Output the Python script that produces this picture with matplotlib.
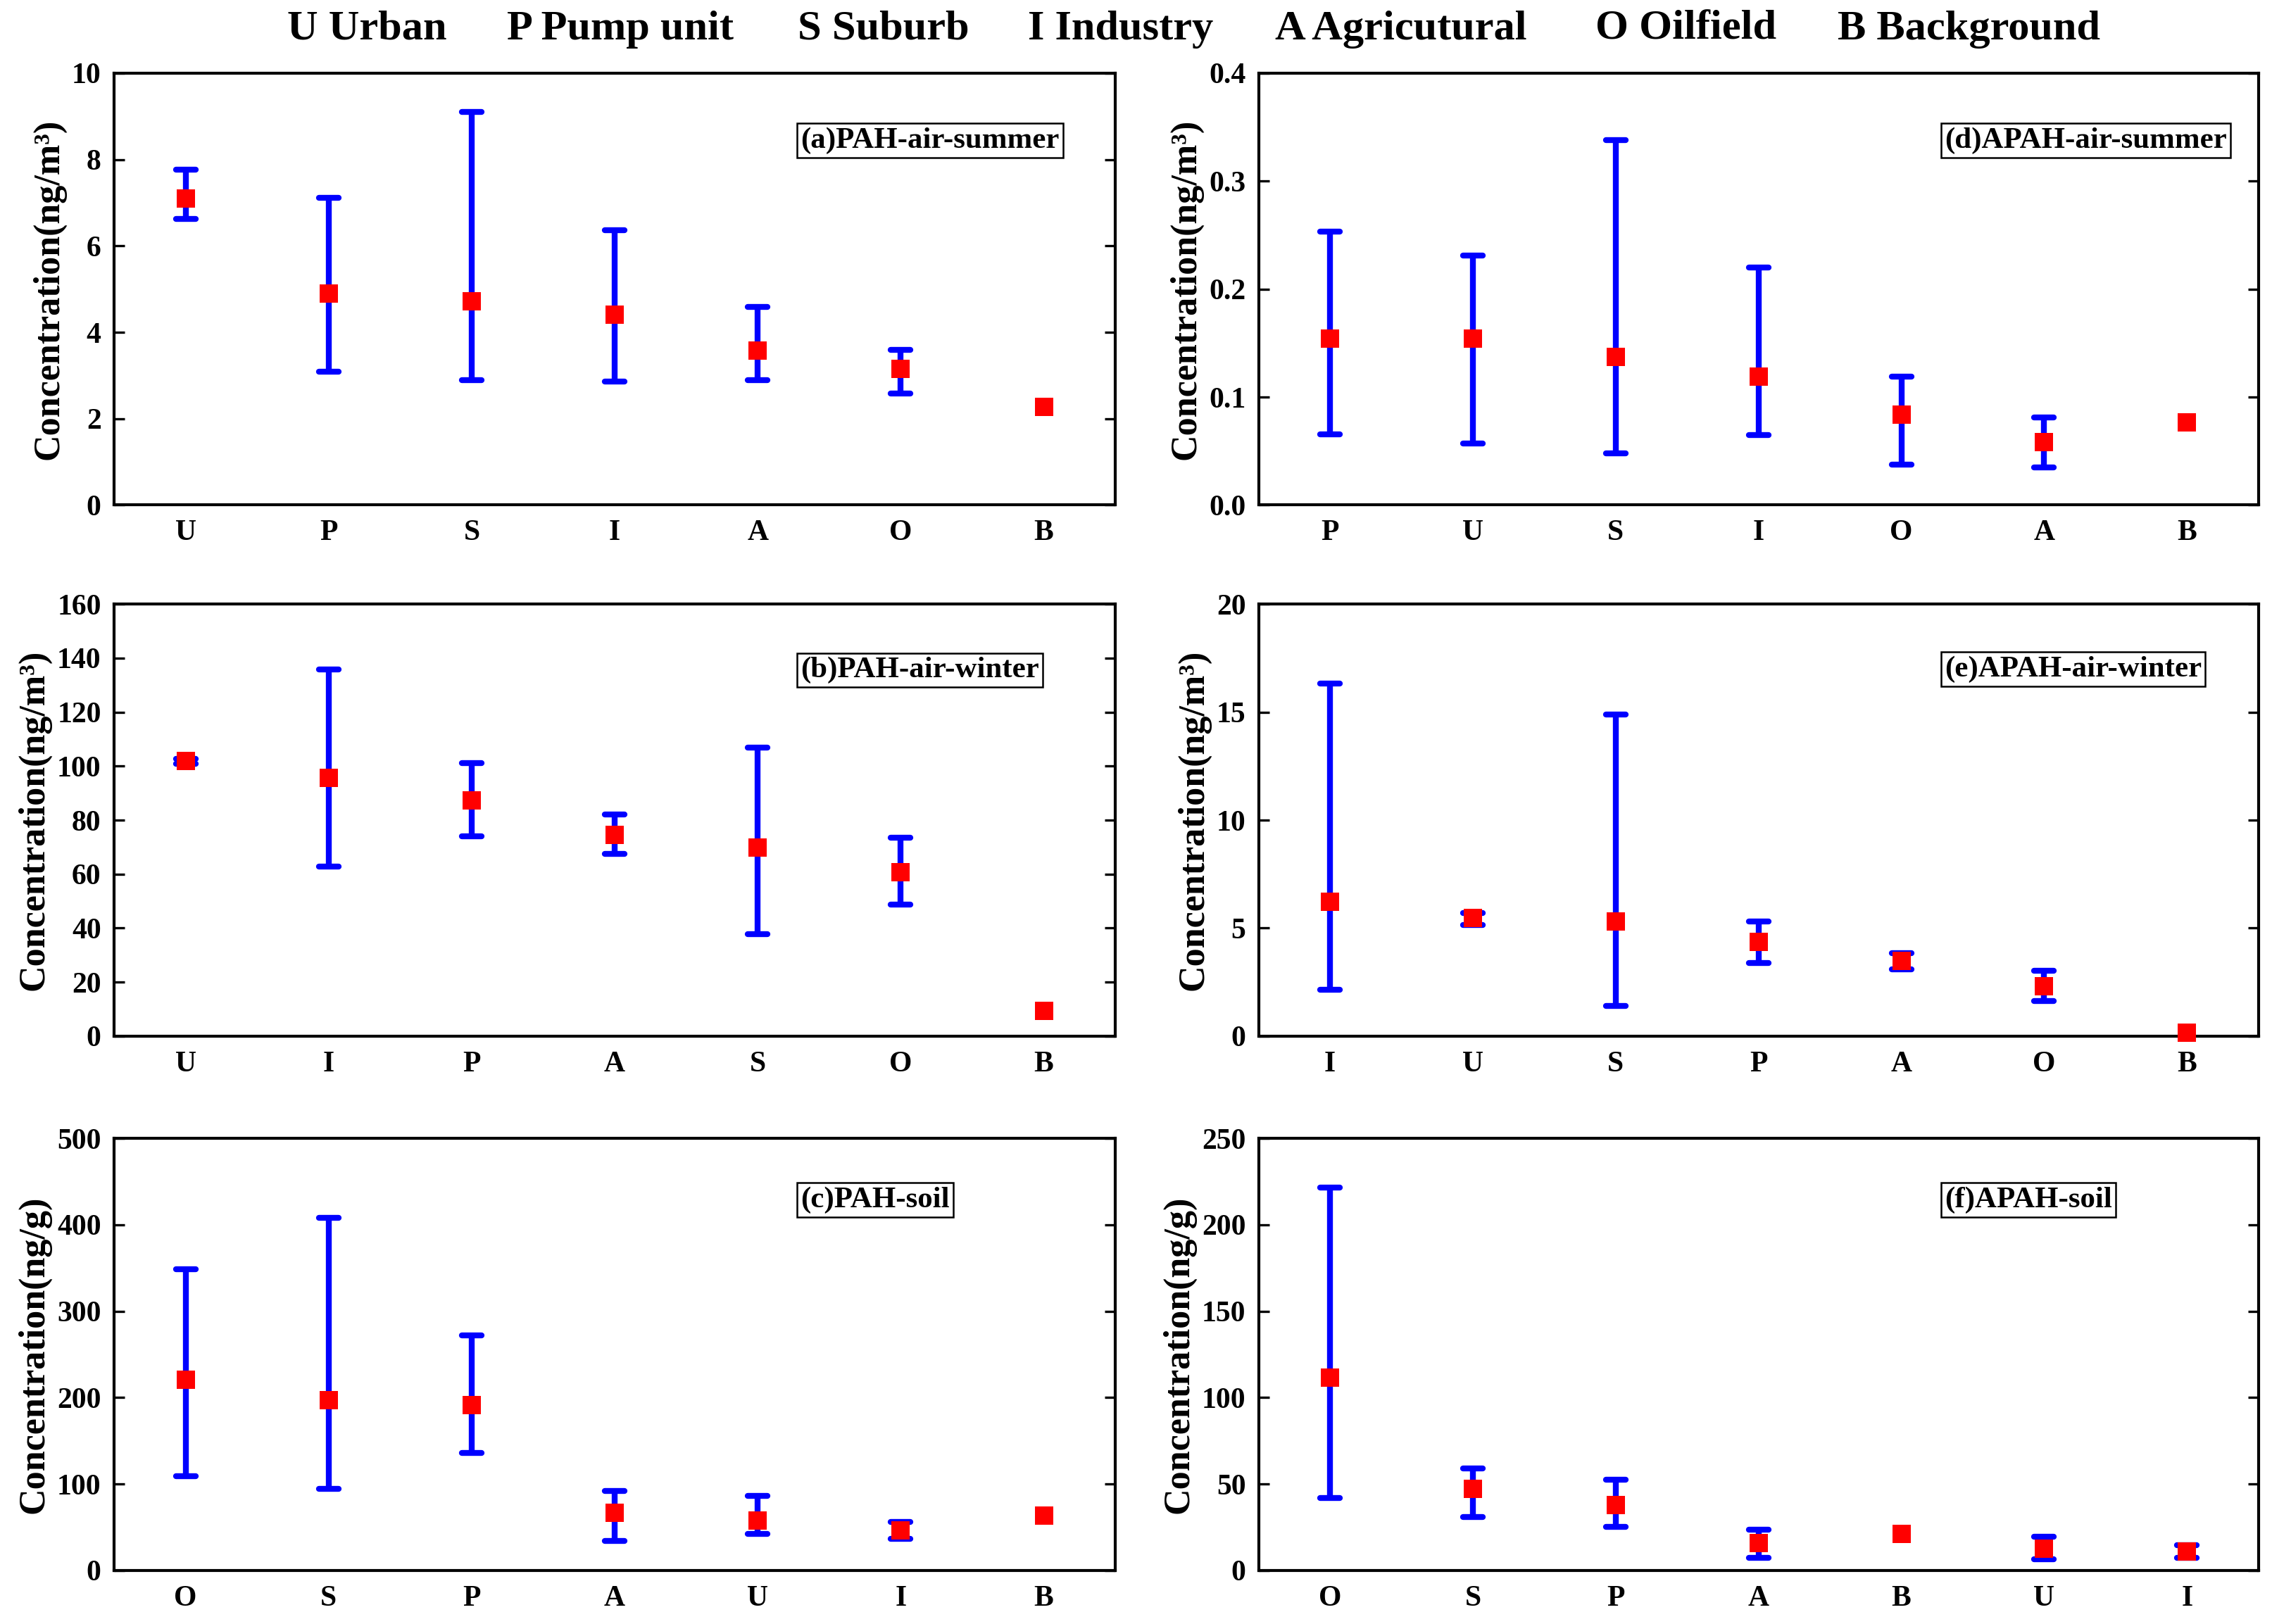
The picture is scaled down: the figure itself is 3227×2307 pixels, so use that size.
# PAH / APAH concentrations by site type, six panels
import numpy as np
import matplotlib.pyplot as plt
from matplotlib.markers import MarkerStyle

plt.rcParams['font.family'] = ['Liberation Serif', 'DejaVu Serif']
plt.rcParams['font.weight'] = 'bold'

LEGEND_ITEMS = ["U Urban", "P Pump unit", "S Suburb", "I Industry",
                "A Agricutural", "O Oilfield", "B Background"]

nan = np.nan

# (a) PAH air summer
a_sites = ["U", "P", "S", "I", "A", "O", "B"]
a_mean = [7.09, 4.89, 4.71, 4.40, 3.57, 3.15, 2.27]
a_upper = [7.76, 7.11, 9.10, 6.37, 4.58, 3.60, nan]
a_lower = [6.63, 3.08, 2.90, 2.86, 2.89, 2.59, nan]

# (b) PAH air winter
b_sites = ["U", "I", "P", "A", "S", "O", "B"]
b_mean = [101.8, 95.6, 87.2, 74.5, 69.8, 60.6, 9.3]
b_upper = [102.6, 135.9, 101.2, 82.2, 106.8, 73.5, nan]
b_lower = [100.9, 62.8, 73.9, 67.4, 37.8, 48.6, nan]

# (c) PAH soil
c_sites = ["O", "S", "P", "A", "U", "I", "B"]
c_mean = [220.8, 197.2, 191.5, 66.3, 58.1, 46.5, 63.3]
c_upper = [348.6, 408.5, 271.7, 92.2, 86.6, 56.2, nan]
c_lower = [108.7, 94.5, 136.1, 34.5, 42.0, 36.4, nan]

# (d) APAH air summer
d_sites = ["P", "U", "S", "I", "O", "A", "B"]
d_mean = [0.154, 0.154, 0.137, 0.119, 0.0835, 0.058, 0.0765]
d_upper = [0.253, 0.231, 0.338, 0.220, 0.119, 0.081, nan]
d_lower = [0.0658, 0.0572, 0.048, 0.065, 0.0373, 0.035, nan]

# (e) APAH air winter
e_sites = ["I", "U", "S", "P", "A", "O", "B"]
e_mean = [6.23, 5.46, 5.32, 4.37, 3.47, 2.30, 0.15]
e_upper = [16.33, 5.70, 14.90, 5.32, 3.85, 3.04, nan]
e_lower = [2.16, 5.13, 1.41, 3.38, 3.09, 1.62, nan]

# (f) APAH soil
f_sites = ["O", "S", "P", "A", "B", "U", "I"]
f_mean = [111.7, 47.2, 38.0, 15.7, 21.0, 12.6, 11.1]
f_upper = [221.5, 59.2, 52.5, 23.4, nan, 19.5, 14.6]
f_lower = [41.8, 31.1, 25.3, 7.1, nan, 6.4, 7.3]

AIR_LABEL = "Concentration(ng/m³)"
SOIL_LABEL = "Concentration(ng/g)"


def draw_panel(ax, sites, mean, upper, lower, yticks, tag, ylabel, tag_y,
               fmt="{:g}"):
    x = np.arange(len(sites))
    mean = np.asarray(mean, dtype=float)
    upper = np.asarray(upper, dtype=float)
    lower = np.asarray(lower, dtype=float)
    has_err = ~np.isnan(upper)

    eb = ax.errorbar(x[has_err], mean[has_err],
                     yerr=[mean[has_err] - lower[has_err],
                           upper[has_err] - mean[has_err]],
                     fmt="none", ecolor="#0000ff", elinewidth=2.0,
                     capsize=3.3, capthick=2.0, zorder=2)
    for cap in eb[1]:
        cap.set_marker(MarkerStyle("_", capstyle="round"))
        cap.set_clip_on(False)
    ax.plot(x, mean, linestyle="none", marker="s", markersize=6.3,
            color="#ff0000", markeredgewidth=0, zorder=3, clip_on=False)

    ax.set_xlim(-0.5, 6.5)
    ax.set_ylim(yticks[0], yticks[-1])
    ax.set_xticks(x)
    ax.set_xticklabels(sites)
    ax.set_yticks(yticks)
    ax.set_yticklabels([fmt.format(t) for t in yticks])
    ax.tick_params(axis="y", direction="in", left=True, right=True,
                   length=3.6, width=0.8, pad=4.4, labelsize=10)
    ax.tick_params(axis="x", length=0, pad=5, labelsize=10)
    for side in ax.spines.values():
        side.set_linewidth(1.0)
    ax.set_ylabel(ylabel, fontsize=12.5, fontweight="bold", labelpad=2)

    ax.text(0.686, tag_y, tag, transform=ax.transAxes, fontsize=10.3,
            fontweight="bold", ha="left", va="center",
            bbox=dict(boxstyle="square,pad=0.12", facecolor="white",
                      edgecolor="black", linewidth=0.6))


def main():
    fig = plt.figure(figsize=(3227 / 300, 2307 / 300), dpi=300)

    cols = [0.0502, 0.554]
    width = [0.4407, 0.440]
    rows = [0.689, 0.362, 0.033]
    height = 0.266

    ax_a = fig.add_axes([cols[0], rows[0], width[0], height])
    ax_b = fig.add_axes([cols[0], rows[1], width[0], height])
    ax_c = fig.add_axes([cols[0], rows[2], width[0], height])
    ax_d = fig.add_axes([cols[1], rows[0], width[1], height])
    ax_e = fig.add_axes([cols[1], rows[1], width[1], height])
    ax_f = fig.add_axes([cols[1], rows[2], width[1], height])

    draw_panel(ax_a, a_sites, a_mean, a_upper, a_lower,
               np.arange(0, 11, 2), "(a)PAH-air-summer", AIR_LABEL, 0.844)
    draw_panel(ax_b, b_sites, b_mean, b_upper, b_lower,
               np.arange(0, 161, 20), "(b)PAH-air-winter", AIR_LABEL, 0.847)
    draw_panel(ax_c, c_sites, c_mean, c_upper, c_lower,
               np.arange(0, 501, 100), "(c)PAH-soil", SOIL_LABEL, 0.858)
    draw_panel(ax_d, d_sites, d_mean, d_upper, d_lower,
               np.round(np.arange(0, 0.41, 0.1), 1), "(d)APAH-air-summer",
               AIR_LABEL, 0.844, fmt="{:.1f}")
    draw_panel(ax_e, e_sites, e_mean, e_upper, e_lower,
               np.arange(0, 21, 5), "(e)APAH-air-winter", AIR_LABEL, 0.849)
    draw_panel(ax_f, f_sites, f_mean, f_upper, f_lower,
               np.arange(0, 251, 50), "(f)APAH-soil", SOIL_LABEL, 0.858)

    # header with site abbreviations
    header_x = [0.1264, 0.2231, 0.3511, 0.4524, 0.5612, 0.7022, 0.8088]
    for hx, item in zip(header_x, LEGEND_ITEMS):
        fig.text(hx, 0.982, item, fontsize=14.5, fontweight="bold",
                 ha="left", va="center")

    fig.savefig("out.png", dpi=300)


if __name__ == "__main__":
    main()
